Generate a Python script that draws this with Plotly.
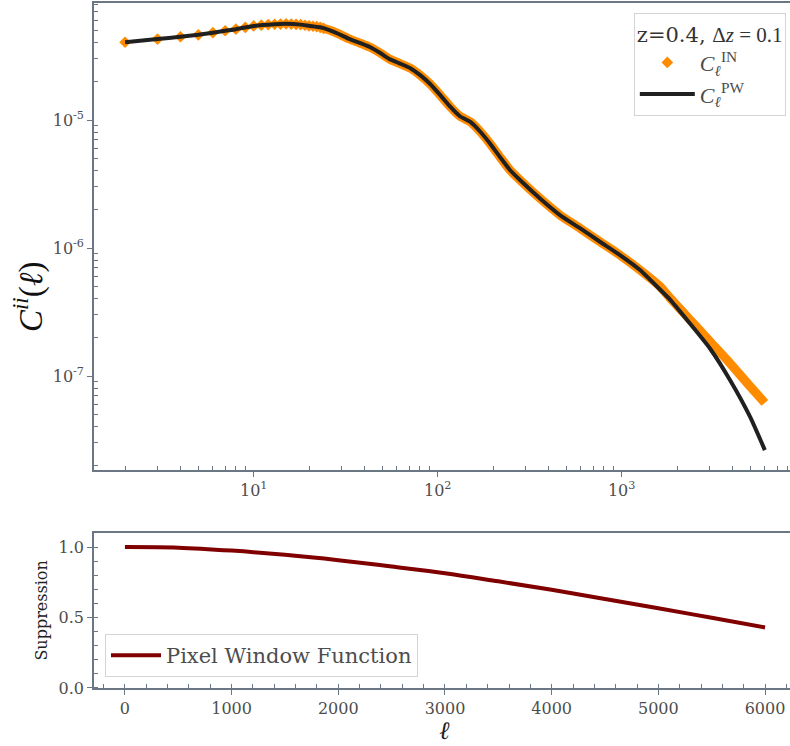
import plotly.graph_objects as go

# ---------------- data ----------------
ell_pw = [2, 3, 4, 5, 6, 7, 8, 10, 13, 15, 18, 20, 23, 26, 29, 33, 38, 43, 49, 55, 62,
          71, 80, 91, 103, 117, 132, 150, 170, 192, 218, 247, 280, 360, 462, 593, 762,
          979, 1258, 1616, 1832, 2352, 3020, 3879, 4985, 6000]
c_pw = [4.05e-5, 4.29e-5, 4.47e-5, 4.63e-5, 4.81e-5, 4.98e-5, 5.12e-5, 5.43e-5,
        5.60e-5, 5.64e-5, 5.56e-5, 5.44e-5, 5.30e-5, 5.02e-5, 4.70e-5, 4.30e-5,
        3.98e-5, 3.70e-5, 3.32e-5, 2.98e-5, 2.77e-5, 2.54e-5, 2.25e-5, 1.91e-5,
        1.57e-5, 1.27e-5, 1.07e-5, 9.70e-6, 8.13e-6, 6.58e-6, 5.14e-6, 4.07e-6,
        3.40e-6, 2.44e-6, 1.81e-6, 1.43e-6, 1.12e-6, 8.81e-7, 6.73e-7, 4.74e-7,
        3.95e-7, 2.57e-7, 1.64e-7, 9.31e-8, 4.81e-8, 2.64e-8]

# C_ell^IN : individual diamonds at low ell ...
ell_in_pts = list(range(2, 25))
c_in_pts = [4.05e-5, 4.29e-5, 4.47e-5, 4.63e-5, 4.81e-5, 4.98e-5, 5.12e-5, 5.29e-5,
            5.43e-5, 5.51e-5, 5.56e-5, 5.60e-5, 5.62e-5, 5.64e-5, 5.62e-5, 5.59e-5,
            5.56e-5, 5.50e-5, 5.44e-5, 5.40e-5, 5.36e-5, 5.30e-5, 5.20e-5]
# ... and where the diamonds merge into a band
ell_in_band = [23, 26, 29, 33, 38, 43, 49, 55, 62, 71, 80, 91, 103, 117, 132, 150, 170,
               192, 218, 247, 280, 360, 462, 593, 762, 979, 1258, 1616, 1832, 2352,
               3020, 3879, 4985, 6000]
c_in_band = [5.30e-5, 5.02e-5, 4.70e-5, 4.30e-5, 3.98e-5, 3.70e-5, 3.32e-5, 2.98e-5,
             2.77e-5, 2.54e-5, 2.25e-5, 1.91e-5, 1.57e-5, 1.27e-5, 1.07e-5, 9.70e-6,
             8.13e-6, 6.58e-6, 5.14e-6, 4.07e-6, 3.40e-6, 2.44e-6, 1.81e-6, 1.43e-6,
             1.12e-6, 8.81e-7, 6.73e-7, 5.00e-7, 4.07e-7, 2.75e-7, 1.86e-7, 1.26e-7,
             8.32e-8, 6.17e-8]

ell_win = [0, 500, 1000, 1500, 2000, 2500, 3000, 3500, 4000, 4500, 5000, 5500, 6000]
win = [1.0, 0.996, 0.975, 0.945, 0.907, 0.862, 0.815, 0.757, 0.697, 0.632, 0.566,
       0.498, 0.43]

x_top_ticks = [10, 100, 1000]
x_top_text = ["10<sup>1</sup>", "10<sup>2</sup>", "10<sup>3</sup>"]
y_top_ticks = [1e-7, 1e-6, 1e-5]
y_top_text = ["10<sup>-7</sup>", "10<sup>-6</sup>", "10<sup>-5</sup>"]

# ---------------- styling ----------------
ORANGE = "#FF8C00"
BLACK = "#202020"
DARKRED = "#800000"
SPINE = "#6b7785"
TXT = "#4d4d4d"
SERIF = "DejaVu Serif"
MATH = "Liberation Serif"

fig = go.Figure()
fig.add_trace(go.Scatter(x=ell_in_band, y=c_in_band, mode="lines",
                         line=dict(color=ORANGE, width=9, shape="spline", smoothing=0.5),
                         showlegend=False, xaxis="x", yaxis="y"))
fig.add_trace(go.Scatter(x=ell_in_pts, y=c_in_pts, mode="markers",
                         marker=dict(symbol="diamond", size=9, color=ORANGE),
                         name="<i>C</i><sub><i>ℓ</i></sub><sup>IN</sup>",
                         xaxis="x", yaxis="y", legend="legend"))
fig.add_trace(go.Scatter(x=ell_pw, y=c_pw, mode="lines",
                         line=dict(color=BLACK, width=4, shape="spline", smoothing=0.5),
                         name="<i>C</i><sub><i>ℓ</i></sub><sup>PW</sup>",
                         xaxis="x", yaxis="y", legend="legend"))
fig.add_trace(go.Scatter(x=ell_win, y=win, mode="lines",
                         line=dict(color=DARKRED, width=4, shape="spline"),
                         name="Pixel Window Function",
                         xaxis="x2", yaxis="y2", legend="legend2"))

minor_x_top = [k * 10 ** n for n in range(0, 4) for k in range(2, 10)]
minor_y_top = [k * 10.0 ** n for n in range(-8, -4) for k in range(2, 10)]

common = dict(showline=True, linecolor=SPINE, linewidth=1.6, showgrid=False,
              zeroline=False, ticks="outside", ticklen=5, tickwidth=1.3,
              tickcolor=SPINE, tickfont=dict(family=SERIF, size=16, color=TXT))

fig.update_layout(
    width=790, height=746,
    margin=dict(l=94, r=0, t=3, b=58),
    paper_bgcolor="white", plot_bgcolor="white",
    xaxis=dict(domain=[0, 1], anchor="y", type="log", range=[0.132, 3.915],
               tickmode="array", tickvals=x_top_ticks, ticktext=x_top_text,
               mirror=True,
               minor=dict(tickmode="array", tickvals=minor_x_top, ticks="inside",
                          ticklen=4, tickwidth=1, tickcolor=SPINE), **common),
    yaxis=dict(domain=[0.31825, 1], anchor="x", type="log", range=[-7.734, -4.086],
               tickmode="array", tickvals=y_top_ticks, ticktext=y_top_text,
               minor=dict(tickmode="array", tickvals=minor_y_top, ticks="inside",
                          ticklen=4, tickwidth=1, tickcolor=SPINE), **common),
    xaxis2=dict(domain=[0, 1], anchor="y2", range=[-290, 6234],
                tickmode="linear", tick0=0, dtick=1000, mirror=True,
                minor=dict(dtick=200, ticks="inside", ticklen=4, tickwidth=1,
                           tickcolor=SPINE), **common),
    yaxis2=dict(domain=[0, 0.22628], anchor="x2", range=[0, 1.1],
                tickmode="array", tickvals=[0, 0.5, 1.0],
                ticktext=["0.0", "0.5", "1.0"],
                minor=dict(tickmode="linear", tick0=0, dtick=0.1, ticks="inside",
                           ticklen=4, tickwidth=1, tickcolor=SPINE), **common),
    legend=dict(x=0.994, y=0.985, xanchor="right", yanchor="top",
                bgcolor="white", bordercolor="#d4d4d4", borderwidth=1,
                font=dict(family=MATH, size=22, color=TXT),
                title=dict(text="z=0.4, <span style='font-family:Liberation Serif'>Δ<i>z</i> = 0.1</span>",
                           font=dict(family=SERIF, size=21, color="#333333")),
                itemwidth=55, tracegroupgap=4),
    legend2=dict(x=0.0158, y=0.016, xanchor="left", yanchor="bottom",
                 bgcolor="white", bordercolor="#d4d4d4", borderwidth=1,
                 font=dict(family=SERIF, size=21, color=TXT), itemwidth=50),
    annotations=[
        dict(text="<i>C</i><sup><i>ii</i></sup>(<i>ℓ</i>)", xref="paper", yref="paper",
             x=-0.095, y=0.572, xanchor="center", yanchor="middle", textangle=-90,
             showarrow=False, font=dict(family=MATH, size=33, color="#111111")),
        dict(text="Suppression", xref="paper", yref="paper",
             x=-0.0747, y=0.113, xanchor="center", yanchor="middle", textangle=-90,
             showarrow=False, font=dict(family=SERIF, size=16, color="#222222")),
        dict(text="<i>ℓ</i>", xref="paper", yref="paper",
             x=0.504, y=-0.062, xanchor="center", yanchor="middle",
             showarrow=False, font=dict(family=MATH, size=25, color="#222222")),
    ],
)

fig.write_html("out.html", config={"displayModeBar": False},
               post_script="document.body.style.margin='0px';")
